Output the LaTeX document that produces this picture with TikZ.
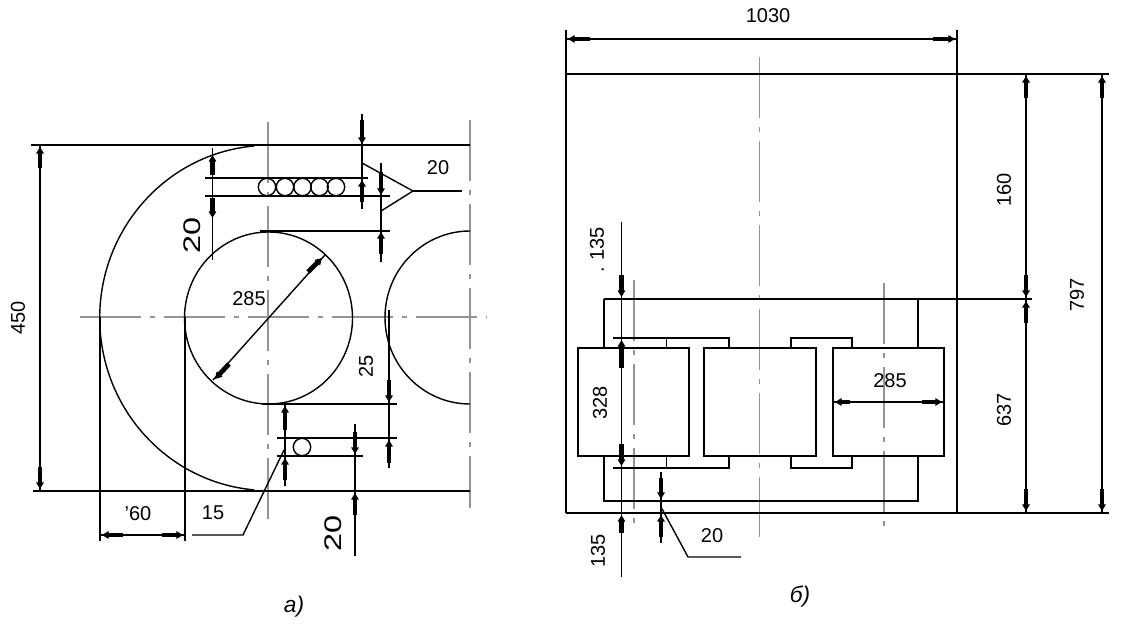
\documentclass[tikz,border=0pt]{standalone}
\usepackage{fontspec}
\setmainfont{Liberation Sans}
\usetikzlibrary{arrows.meta}
\tikzset{
 dim/.style={line width=1.3pt,black},
 thinpart/.style={line width=1.05pt,black},
 part/.style={line width=1.3pt,black},
 axis/.style={line width=1.4pt,black!42,dash pattern=on 45.75pt off 6.75pt on 3.75pt off 6.75pt},
 head/.style={line width=3.6pt,-{Triangle[length=5pt,width=5.6pt]},black},
 lab/.style={font=\fontsize{15pt}{17pt}\selectfont,inner sep=0},
 big/.style={font=\fontsize{18pt}{20pt}\selectfont,inner sep=0,yscale=1.35},
 captext/.style={font=\fontsize{17pt}{19pt}\selectfont\itshape,inner sep=0}
}
\begin{document}
\begin{tikzpicture}[x=0.75pt,y=-0.75pt]
\useasboundingbox (0,0) rectangle (1137,631);
\fill[white] (0,0) rectangle (1137,631);
% ---- a) axes
\draw[axis] (80,317) -- (487,317);
\draw[axis] (268,122) -- (268,527);
\draw[axis] (470,120) -- (470,508);
% ---- a) circles
\draw[thinpart] (254,146) arc[start angle=265,end angle=95,x radius=169,y radius=172.6];
\draw[thinpart] (268.5,318) circle[x radius=84,y radius=86];
\draw[thinpart] (470,231) arc[start angle=-90,end angle=-270,x radius=85,y radius=86.5];
\foreach \cx in {267,285,302.5,319.5,336} \draw[thinpart] (\cx,187) circle[radius=8.7];
\draw[thinpart] (302,447) circle[radius=8.7];
% ---- a) lines
\draw[dim] (31,145) -- (470,145);
\draw[dim] (33,491) -- (470,491);
\draw[dim] (205,178) -- (368,178);
\draw[dim] (205,196) -- (390,196);
\draw[dim] (260,231) -- (390,231);
\draw[dim] (262,404) -- (397,404);
\draw[dim] (277,438) -- (397,438);
\draw[dim] (277,456) -- (363,456);
\draw[dim] (40,145) -- (40,491);
\draw[dim] (100,317) -- (100,541);
\draw[dim] (185,317) -- (185,541);
\draw[dim] (100,535) -- (185,535);
\draw[dim] (212.5,148) -- (212.5,260);
\draw[dim] (362,114) -- (362,209);
\draw[dim] (381,163) -- (381,262);
\draw[dim] (285,404) -- (285,486);
\draw[dim] (355,424) -- (355,556);
\draw[dim] (389,310) -- (389,468);
\draw[thinpart] (325,255) -- (213,380);
\draw[thinpart] (362,163) -- (413,191) -- (381,211);
\draw[dim] (413,191) -- (462,191);
\draw[thinpart] (192,535) -- (243,535) -- (284,450);
% ---- a) heads
\draw[head] (40,168) -- (40,147);
\draw[head] (40,467) -- (40,489);
\draw[head] (123,535) -- (102,535);
\draw[head] (162,535) -- (183,535);
\draw[head] (212.5,175) -- (212.5,155);
\draw[head] (212.5,198) -- (212.5,218);
\draw[head] (362,120) -- (362,144);
\draw[head] (362,202) -- (362,180);
\draw[head] (381,172) -- (381,195);
\draw[head] (381,254) -- (381,232);
\draw[head] (285,430) -- (285,406);
\draw[head] (285,480) -- (285,458);
\draw[head] (355,432) -- (355,454);
\draw[head] (355,515) -- (355,493);
\draw[head] (389,380) -- (389,402);
\draw[head] (389,463) -- (389,440);
\draw[head] (308,272) -- (322,258);
\draw[head] (229,364) -- (215,379);
% ---- a) labels
\node[lab,rotate=90] (a450) at (18,318) {450};
\node[lab] (a60) at (138,514) {'60};
\node[lab] (a15) at (213,513) {15};
\node[big,rotate=90] (a20l) at (192,235) {20};
\node[lab] (a285) at (249,299) {285};
\node[lab] (a20r) at (438,168) {20};
\node[lab,rotate=90] (a25) at (366,366) {25};
\node[big,rotate=90] (a20b) at (333,533) {20};
\node[captext] (acap) at (294,607) {a)};
% ---- b) axes
\draw[axis] (634,280) -- (634,527);
\draw[axis] (759.5,57) -- (759.5,537);
\draw[axis] (884,283) -- (884,527);
% ---- b) lines
\draw[dim] (566,74) -- (1109,74);
\draw[dim] (566,513) -- (1109,513);
\draw[dim] (566,30) -- (566,513);
\draw[dim] (957,30) -- (957,513);
\draw[dim] (566,39) -- (957,39);
\draw[dim] (1026,74) -- (1026,513);
\draw[dim] (1102,74) -- (1102,513);
\draw[dim] (604,299) -- (1032,299);
\draw[dim] (604,299) -- (604,348) (604,456) -- (604,501) -- (918,501) -- (918,456) (918,348) -- (918,299);
\draw[part] (578,348) rectangle (689,456);
\draw[part] (704,348) rectangle (816,456);
\draw[part] (833,348) rectangle (944,456);
\draw[part] (613,338) -- (729,338) -- (729,348);
\draw[part] (613,468) -- (729,468) -- (729,456);
\draw[thinpart] (666.5,338) -- (666.5,348) (666.5,456) -- (666.5,468);
\draw[part] (791,348) -- (791,338) -- (852,338) -- (852,348);
\draw[part] (791,456) -- (791,468) -- (852,468) -- (852,456);
\draw[dim] (621.5,222) -- (621.5,577);
\draw[dim] (661,472) -- (661,543);
\draw[thinpart] (661,507) -- (688,557) -- (741,557);
\draw[dim] (833,402) -- (944,402);
% ---- b) heads
\draw[head] (590,39) -- (568,39);
\draw[head] (933,39) -- (955,39);
\draw[head] (1026,98) -- (1026,76);
\draw[head] (1026,275) -- (1026,297);
\draw[head] (1026,323) -- (1026,301);
\draw[head] (1026,489) -- (1026,511);
\draw[head] (1102,98) -- (1102,76);
\draw[head] (1102,489) -- (1102,511);
\draw[head] (621.5,275) -- (621.5,297);
\draw[head] (621.5,368) -- (621.5,340);
\draw[head] (621.5,444) -- (621.5,466);
\draw[head] (621.5,533) -- (621.5,515);
\draw[head] (661,478) -- (661,499);
\draw[head] (661,537) -- (661,515);
\draw[head] (850,402) -- (835,402);
\draw[head] (922,402) -- (942,402);
% ---- b) labels
\node[lab] (b1030) at (768,16) {1030};
\node[lab,rotate=90] (b135t) at (597,250) {.\,\,135};
\node[lab,rotate=90] (b135b) at (598,551) {135};
\node[lab,rotate=90] (b328) at (600,403) {328};
\node[lab] (b285) at (890,381) {285};
\node[lab] (b20) at (712,536) {20};
\node[lab,rotate=90] (b160) at (1004,190) {160};
\node[lab,rotate=90] (b637) at (1004,410) {637};
\node[lab,rotate=90] (b797) at (1077,295) {797};
\node[captext] (bcap) at (800,597) {б)};
\end{tikzpicture}
\end{document}
